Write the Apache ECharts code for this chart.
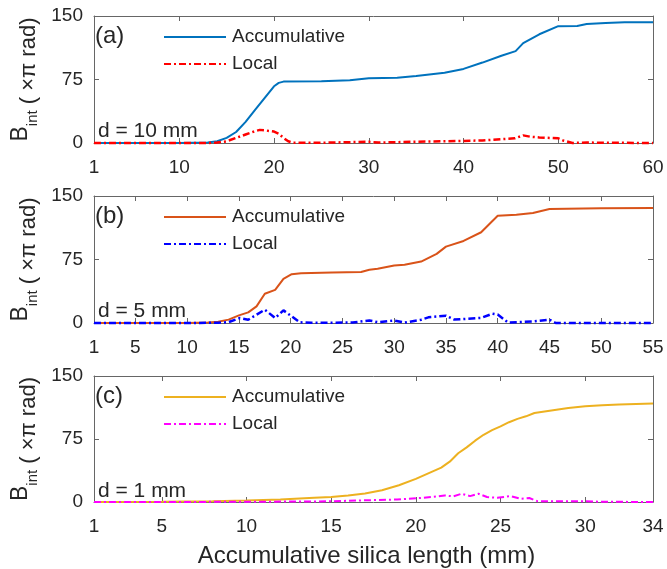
<!DOCTYPE html>
<html>
<head>
<meta charset="utf-8">
<script src="https://cdn.jsdelivr.net/npm/echarts@6/dist/echarts.min.js"></script>
<style>html,body{margin:0;padding:0;background:#fff}#c{width:667px;height:569px}</style>
</head>
<body>
<div id="c"></div>
<script>
// ---- data ----
const xTicksA = [1, 10, 20, 30, 40, 50, 60];
const xTicksB = [1, 5, 10, 15, 20, 25, 30, 35, 40, 45, 50, 55];
const xTicksC = [1, 5, 10, 15, 20, 25, 30, 34];
const yTicks = [0, 75, 150];

// (a) d = 10 mm
const accA_x = [1, 5, 10, 13, 14, 15, 16, 17, 18, 19, 20, 20.5, 21, 25, 28, 30, 33, 35, 38, 40, 42, 44, 45.5, 46.3, 48, 50, 52, 53, 55, 57, 60];
const accA_y = [0, 0, 0, 0.5, 2, 6, 13, 25, 39, 53, 67, 71, 72.5, 73, 74, 76.5, 77, 79, 83, 87.5, 95, 103, 108.5, 118, 128.4, 138, 138.2, 140.5, 141.8, 142.5, 142.5];
const locA_x = [1, 5, 10, 13, 14, 15, 16, 17, 18, 18.5, 19, 20, 20.5, 21, 21.5, 22, 25, 28, 30, 31, 33, 35, 38, 40, 42, 45.4, 46.3, 47, 48, 50, 50.5, 51.5, 53, 55, 60];
const locA_y = [0, 0, 0, 0, 0.5, 2, 6, 10, 14, 15.5, 15, 13.5, 11, 6, 2, 0.3, 0.3, 1, 1.5, 0.5, 1, 1.5, 2, 2.5, 3, 5.5, 9, 7.5, 6.5, 5.5, 3, 0, 0.5, 0.3, 0];

// (b) d = 5 mm
const accB_x = [1, 5, 10, 12, 13, 14, 15, 15.9, 16.7, 17.5, 18.5, 19.3, 20.1, 21, 24, 26.8, 27.6, 28.4, 30, 31, 32.6, 34.1, 35, 36.7, 38.4, 40, 41.8, 43.4, 45, 50, 55];
const accB_y = [0, 0, 0, 0.5, 1.5, 4, 9, 12.5, 19.6, 34.5, 39.2, 52.2, 57.7, 58.8, 59.6, 60.2, 62.8, 64, 67.9, 68.7, 72.6, 81.6, 90.2, 96.9, 107.2, 126.7, 127.9, 129.9, 134.6, 135.5, 135.8];
const locB_x = [1, 10, 13, 14, 15.1, 15.9, 17.5, 18.5, 19.3, 20.1, 20.9, 22, 26, 27.6, 28.4, 30, 31, 32.6, 33.3, 35, 35.8, 38.4, 39.5, 40, 41, 43.4, 45, 45.6, 50, 55];
const locB_y = [0, 0, 0.3, 1, 5.9, 3.9, 15.7, 5.9, 14.9, 7.8, 0.8, 0.3, 0.5, 3, 1, 3, 0.5, 3.9, 6.7, 8.6, 4, 6, 11, 10, 0.6, 1.8, 3.9, 0, 0, 0];

// (c) d = 1 mm
const accC_x = [1, 5, 8, 10, 12, 14, 15, 16, 17, 18, 19, 20, 21, 21.5, 22, 22.5, 23, 23.5, 24, 24.5, 25, 25.5, 26, 26.5, 27, 28, 29, 30, 31, 32, 33, 34];
const accC_y = [0, 0.3, 1, 1.8, 3, 5, 6, 7.8, 10, 14, 20, 27.5, 36.5, 41, 48, 58, 65, 73, 80, 85.5, 90, 95, 99, 102, 106, 109, 112, 114, 115.3, 116.2, 116.8, 117.3];
const locC_x = [1, 10, 14.9, 17, 18.9, 20.2, 21.2, 21.7, 22.2, 22.7, 23.2, 23.7, 24.2, 24.8, 25.6, 26.2, 26.7, 27.2, 28, 30, 31, 34];
const locC_y = [0, 0.2, 0.8, 2, 3, 4.7, 6.5, 7.8, 6.7, 9.8, 7, 9.8, 5.9, 5, 7, 3.9, 4.7, 0.8, 1, 0.8, 0.3, 0];

const panelLabels = ['(a)', '(b)', '(c)'];
const dLabels = ['d = 10 mm', 'd = 5 mm', 'd = 1 mm'];
const legendNames = ['Accumulative', 'Local'];
const xLabelText = 'Accumulative silica length (mm)';

// ---- styling / layout ----
const FONT = 'Liberation Sans, Arial, Helvetica, sans-serif';
const TXT = '#262626';
const AX = '#666666';
const gridLeft = 94, gridW = 559, gridH = 127;
const gridTops = [16, 196, 376];

const panels = [
  {ticks: xTicksA, min: 1, max: 60, acc: [accA_x, accA_y], loc: [locA_x, locA_y], accColor: '#0072BD', locColor: '#FF0000', locW: 2.5},
  {ticks: xTicksB, min: 1, max: 55, acc: [accB_x, accB_y], loc: [locB_x, locB_y], accColor: '#D95319', locColor: '#0000FF', locW: 2.5},
  {ticks: xTicksC, min: 1, max: 34, acc: [accC_x, accC_y], loc: [locC_x, locC_y], accColor: '#EDB120', locColor: '#FF00FF', locW: 2}
];

const zip = (xs, ys) => xs.map((x, i) => [x, ys[i]]);

const grid = [], xAxis = [], yAxis = [], series = [], legend = [], graphic = [];

panels.forEach((p, i) => {
  grid.push({left: gridLeft, top: gridTops[i], width: gridW, height: gridH});
  const common = {
    type: 'value', gridIndex: i, min: p.min, max: p.max,
    splitLine: {show: false},
    axisLine: {show: true, onZero: false, lineStyle: {color: AX, width: 1}},
  };
  xAxis.push(Object.assign({}, common, {
    position: 'bottom',
    axisTick: {show: true, inside: true, length: 5, customValues: p.ticks, lineStyle: {color: AX}},
    axisLabel: {show: true, customValues: p.ticks, margin: 15, fontSize: 19, fontFamily: FONT, color: TXT},
    name: i === 2 ? xLabelText : '',
    nameLocation: 'middle', nameGap: 42,
    nameTextStyle: {fontSize: 24, fontFamily: FONT, color: TXT, padding: [0, 14, 0, 0]}
  }));
  xAxis.push(Object.assign({}, common, {
    position: 'top',
    axisTick: {show: true, inside: true, length: 5, customValues: p.ticks, lineStyle: {color: AX}},
    axisLabel: {show: false}
  }));
  const ycommon = {
    type: 'value', gridIndex: i, min: 0, max: 150, interval: 75,
    splitLine: {show: false},
    axisLine: {show: true, lineStyle: {color: AX, width: 1}},
    axisTick: {show: true, inside: true, length: 5, lineStyle: {color: AX}}
  };
  yAxis.push(Object.assign({}, ycommon, {
    position: 'left',
    axisLabel: {show: true, margin: 11, fontSize: 19, fontFamily: FONT, color: TXT},
    name: '{b|B}{s|int}{n| ( ×π rad)}',
    nameLocation: 'middle', nameRotate: 90, nameGap: 52,
    nameTextStyle: {
      color: TXT, fontFamily: FONT,
      rich: {
        b: {fontSize: 23, lineHeight: 40, verticalAlign: 'middle', fontFamily: FONT, color: TXT},
        s: {fontSize: 15, lineHeight: 10, verticalAlign: 'bottom', fontFamily: FONT, color: TXT},
        n: {fontSize: 22, lineHeight: 32, verticalAlign: 'bottom', fontFamily: FONT, color: TXT}
      }
    }
  }));
  yAxis.push(Object.assign({}, ycommon, {position: 'right', axisLabel: {show: false}}));

  const accName = 'acc' + i, locName = 'loc' + i;
  series.push({
    name: accName, type: 'line', xAxisIndex: 2 * i, yAxisIndex: 2 * i,
    data: zip(p.acc[0], p.acc[1]), symbol: 'none', clip: false,
    lineStyle: {color: p.accColor, width: 2}, itemStyle: {color: p.accColor}
  });
  series.push({
    name: locName, type: 'line', xAxisIndex: 2 * i, yAxisIndex: 2 * i,
    data: zip(p.loc[0], p.loc[1]), symbol: 'none', clip: false,
    lineStyle: {color: p.locColor, width: p.locW, type: [7, 3, 2, 3]}, itemStyle: {color: p.locColor}
  });
  legend.push({
    data: [accName, locName], orient: 'vertical', left: 163, top: gridTops[i] + 11.5,
    padding: 0, itemGap: 8, itemWidth: 62, itemHeight: 14,
    formatter: n => n.startsWith('acc') ? legendNames[0] : legendNames[1],
    itemStyle: {opacity: 0, color: 'transparent', borderWidth: 0},
    textStyle: {fontSize: 19, fontFamily: FONT, color: TXT, padding: [0, 0, 0, 1]},
    selectedMode: false
  });
  graphic.push({
    type: 'text', x: 95, y: gridTops[i] + 20,
    style: {text: panelLabels[i], fontSize: 24, fontFamily: FONT, fill: TXT, verticalAlign: 'middle', align: 'left'}
  });
  graphic.push({
    type: 'text', x: 98, y: gridTops[i] + 115,
    style: {text: dLabels[i], fontSize: 21, fontFamily: FONT, fill: TXT, verticalAlign: 'middle', align: 'left'}
  });
});

const chart = echarts.init(document.getElementById('c'), null, {renderer: 'canvas'});
chart.setOption({
  animation: false,
  backgroundColor: '#fff',
  grid, xAxis, yAxis, series, legend, graphic
});
</script>
</body>
</html>
